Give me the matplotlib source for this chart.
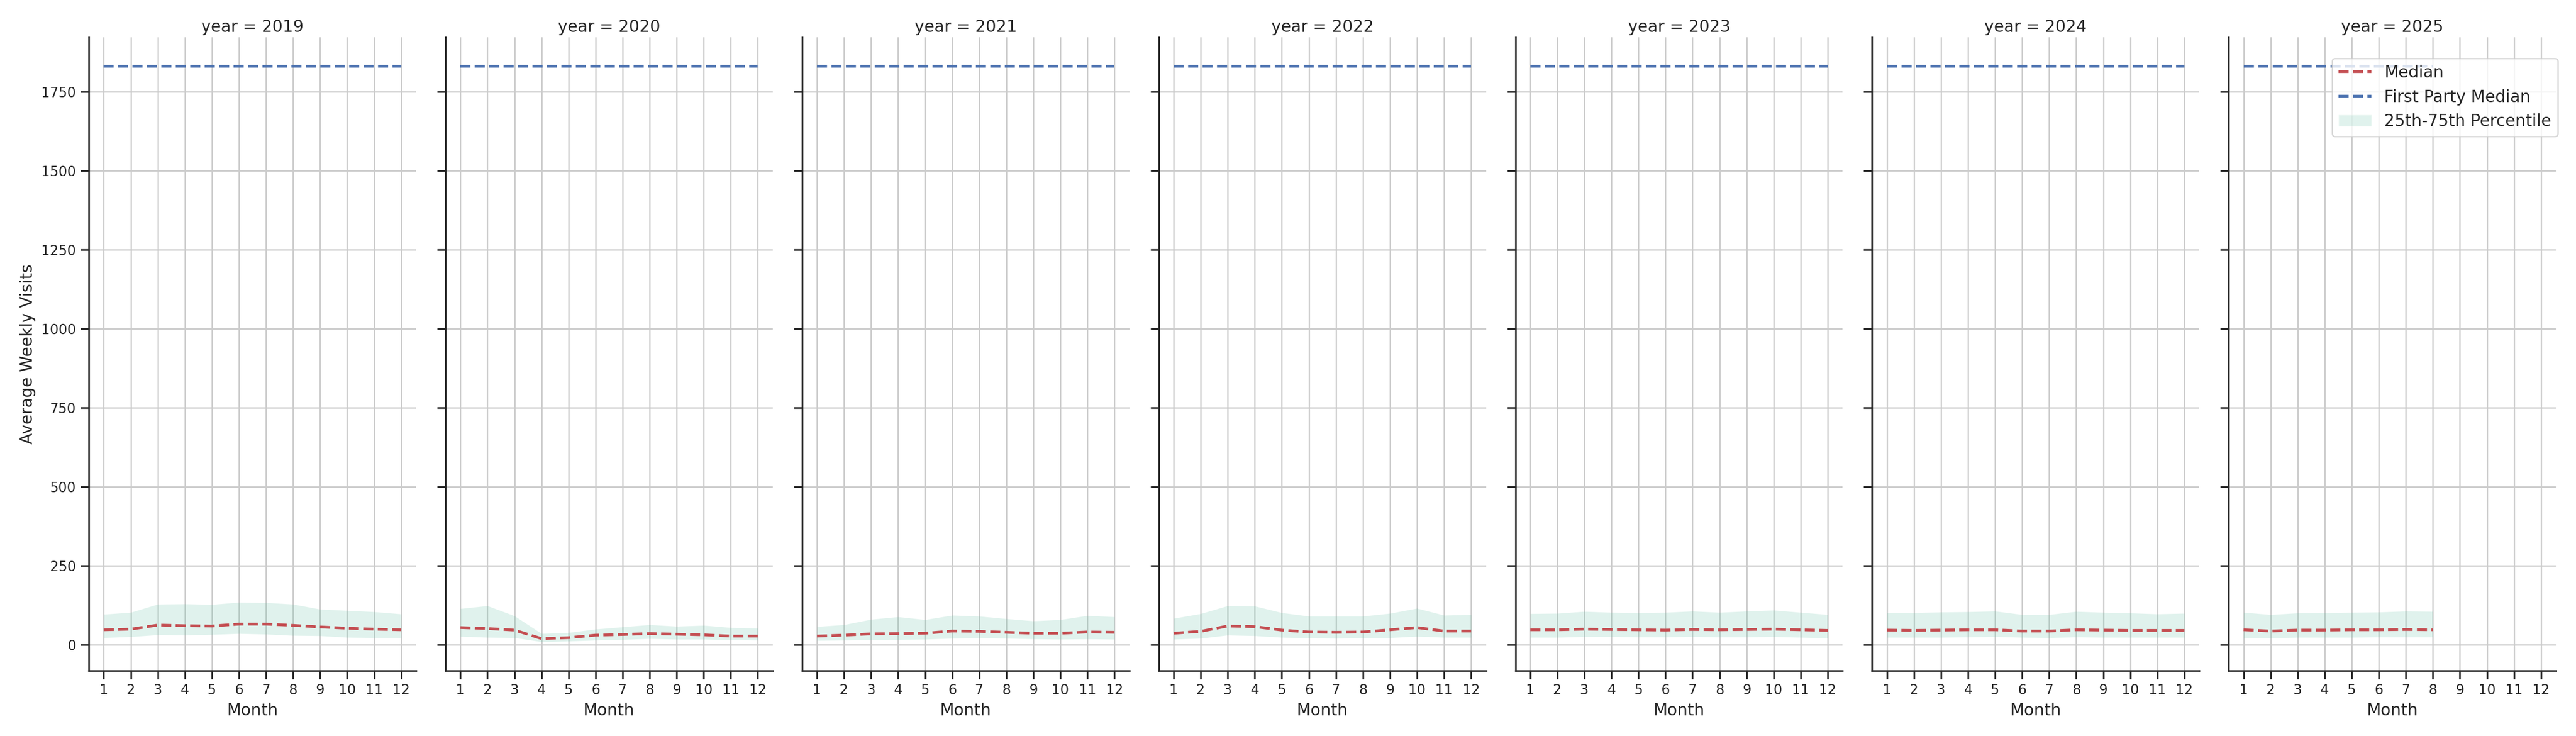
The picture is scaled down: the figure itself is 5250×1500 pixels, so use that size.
import matplotlib
matplotlib.use('Agg')
import matplotlib.pyplot as plt
from matplotlib.lines import Line2D
from matplotlib.patches import Patch
import numpy as np
import seaborn as sns

years = [2019, 2020, 2021, 2022, 2023, 2024, 2025]
month_ticks = list(range(1, 13))
first_party_median = 1832

# median weekly visits per month, one list per year
median = {
    2019: [47, 49, 62, 60, 59, 65, 65, 61, 56, 52, 49, 47],
    2020: [54, 51, 46, 19, 22, 30, 32, 35, 33, 31, 27, 27],
    2021: [27, 30, 34, 35, 36, 43, 42, 39, 36, 36, 40, 39],
    2022: [36, 42, 59, 57, 46, 40, 39, 40, 47, 54, 43, 43],
    2023: [47, 47, 49, 48, 47, 46, 48, 47, 48, 49, 47, 45],
    2024: [46, 45, 46, 47, 47, 43, 43, 47, 46, 45, 45, 45],
    2025: [47, 43, 46, 46, 47, 47, 48, 47],
}
p75 = {
    2019: [96, 102, 128, 129, 127, 134, 133, 128, 112, 108, 104, 97],
    2020: [114, 123, 91, 35, 38, 49, 56, 63, 58, 61, 54, 52],
    2021: [57, 63, 80, 88, 79, 93, 90, 82, 75, 79, 92, 88],
    2022: [83, 98, 123, 122, 101, 90, 90, 90, 99, 115, 93, 95],
    2023: [98, 99, 105, 102, 101, 102, 106, 102, 106, 109, 102, 95],
    2024: [101, 101, 103, 104, 106, 95, 95, 105, 102, 100, 97, 99],
    2025: [102, 95, 100, 101, 102, 103, 106, 105],
}
p25 = {
    2019: [22, 25, 31, 30, 32, 35, 33, 29, 28, 23, 22, 22],
    2020: [26, 23, 22, 9, 11, 14, 16, 19, 17, 17, 15, 14],
    2021: [13, 14, 15, 16, 17, 20, 21, 20, 18, 17, 18, 17],
    2022: [17, 20, 30, 28, 23, 21, 20, 21, 22, 26, 23, 23],
    2023: [23, 23, 25, 25, 24, 24, 25, 24, 24, 25, 23, 21],
    2024: [23, 23, 23, 24, 25, 23, 22, 24, 23, 23, 23, 23],
    2025: [22, 21, 23, 23, 23, 24, 24, 24],
}

sns.set_theme(context='notebook', style='ticks')
plt.rcParams['font.family'] = ['DejaVu Sans']

red = '#c44e52'
blue = '#4c72b0'
fill = '#66c2a5'

fig, axes = plt.subplots(1, 7, figsize=(26.25, 7.5), dpi=200, sharex=True, sharey=True)
plt.subplots_adjust(left=0.0345, right=0.9922, top=0.9493, bottom=0.0889, wspace=0.09)

for ax, yr in zip(axes, years):
    m = np.arange(1, len(median[yr]) + 1)
    ax.grid(True, color='#cccccc', linewidth=1)
    ax.set_axisbelow(True)
    ax.fill_between(m, p25[yr], p75[yr], color=fill, alpha=0.2, linewidth=0)
    ax.plot(m, median[yr], color=red, linestyle='--', linewidth=2)
    ax.plot(m, np.full(len(m), first_party_median), color=blue, linestyle='--', linewidth=2)
    ax.set_title(f'year = {yr}', fontsize=12, pad=4)
    ax.set_xlabel('Month', fontsize=12)
    ax.set_xticks(month_ticks)
    ax.tick_params(labelsize=10)
    sns.despine(ax=ax)

axes[0].set_yticks(range(0, 2000, 250))
axes[0].set_ylabel('Average Weekly Visits', fontsize=12)

handles = [
    Line2D([], [], color=red, linestyle='--', linewidth=2),
    Line2D([], [], color=blue, linestyle='--', linewidth=2),
    Patch(facecolor=fill, alpha=0.2),
]
axes[-1].legend(handles, ['Median', 'First Party Median', '25th-75th Percentile'],
                loc='upper right', bbox_to_anchor=(1.006, 0.967), borderaxespad=0, fontsize=12)

plt.savefig('out.png', dpi=200)
